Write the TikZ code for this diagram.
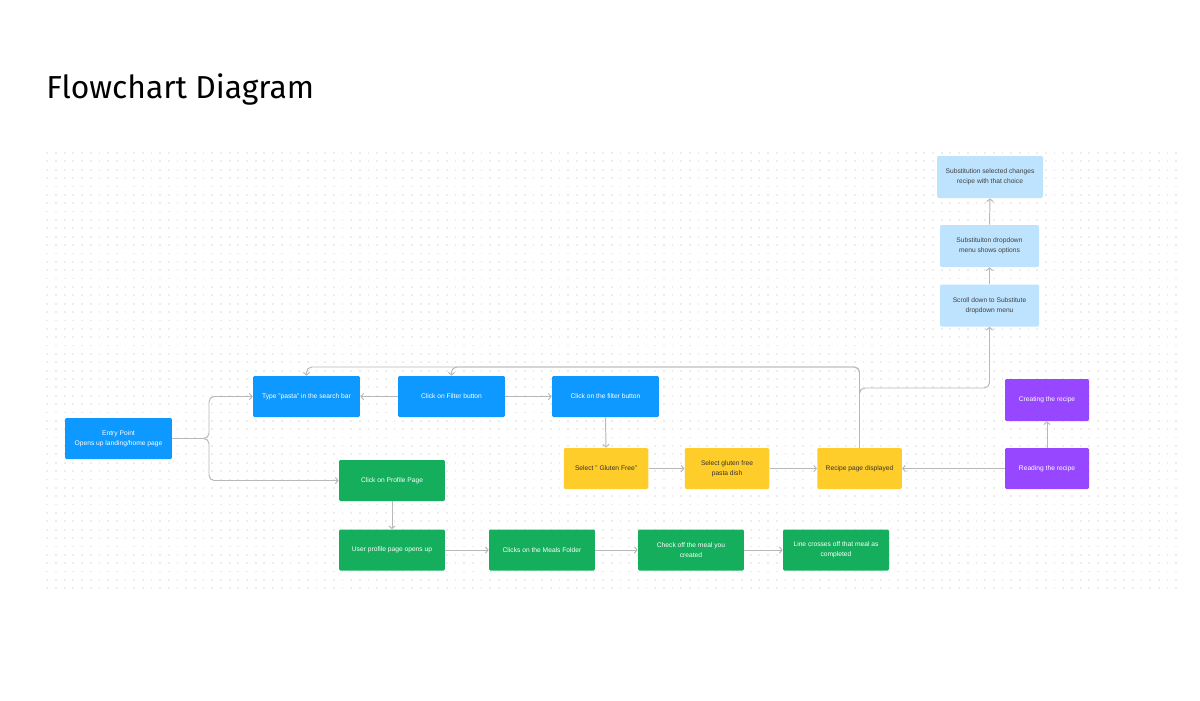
\documentclass[tikz,border=0pt]{standalone}
\usepackage{fontspec}
\setmainfont{Liberation Sans}
\newfontfamily\titlefont{Fira Sans}
\usepackage{tikz}
\usetikzlibrary{arrows.meta, positioning}
\definecolor{fjblue}{HTML}{0D99FF}
\definecolor{fjgreen}{HTML}{14AE5C}
\definecolor{fjyellow}{HTML}{FFCD29}
\definecolor{fjpurple}{HTML}{9747FF}
\definecolor{fjlight}{HTML}{BDE3FF}
\definecolor{linegray}{HTML}{B8B8B8}
\definecolor{dotgray}{HTML}{ECECEC}

\begin{document}
\begin{tikzpicture}[x=0.02cm, y=-0.02cm,
        box/.style={rectangle, rounded corners=0.8pt, minimum height=0.82cm, align=center,
            inner sep=1pt, font=\fontsize{3.8}{5.5}\selectfont},
        bluebox/.style={box, fill=fjblue, text=white, minimum width=2.14cm},
        greenbox/.style={box, fill=fjgreen, text=white, minimum width=2.12cm},
        yellowbox/.style={box, fill=fjyellow, text=black!80, minimum width=1.69cm},
        purplebox/.style={box, fill=fjpurple, text=white, minimum width=1.68cm},
        lightbox/.style={box, fill=fjlight, text=black!75, minimum width=1.98cm, minimum height=0.84cm},
        link/.style={draw=linegray, line width=0.55pt, rounded corners=3pt,
            -{Straight Barb[length=1.5pt,width=3.6pt]}},
        dotrow/.style={draw=dotgray, line width=0.035cm, dash pattern=on 0.035cm off 0.1387cm}]
    \useasboundingbox (0,0) rectangle (1200,700);
    \fill[white] (0,0) rectangle (1200,700);

    % dotted canvas
    \foreach \r in {0,...,52}
        \draw[dotrow] (46.4,{153+\r*8.37}) -- (1180,{153+\r*8.37});

    \node[anchor=base west, inner sep=0pt, font=\titlefont\fontsize{18.1}{20}\selectfont] (title) at (46,98) {Flowchart Diagram};

    % blue row
    \node[bluebox] (entry) at (118.5,438.5) {Entry Point\\Opens up landing/home page};
    \node[bluebox] (type) at (306.5,396.5) {Type "pasta" in the search bar};
    \node[bluebox] (filter) at (451.5,396.5) {Click on Filter button};
    \node[bluebox] (filter2) at (605.5,396.5) {Click on the filter button};

    % yellow row
    \node[yellowbox] (gluten) at (606,468.5) {Select " Gluten Free"};
    \node[yellowbox] (dish) at (727,468.5) {Select gluten free\\pasta dish};
    \node[yellowbox] (recipe) at (859.5,468.5) {Recipe page displayed};

    % purple
    \node[purplebox] (reading) at (1047,468.5) {Reading the recipe};
    \node[purplebox, minimum height=0.84cm] (creating) at (1047,400) {Creating the recipe};

    % substitution column
    \node[lightbox] (scroll) at (989.5,305.5) {Scroll down to Substitute\\dropdown menu};
    \node[lightbox] (options) at (989.5,246) {Substituiton dropdown\\menu shows options};
    \node[lightbox, minimum width=2.12cm] (subst) at (990,177) {Substitution selected changes\\recipe with that choice};

    % green rows
    \node[greenbox] (profile) at (392,480.5) {Click on Profile Page};
    \node[greenbox] (opens) at (392,550) {User profile page opens up};
    \node[greenbox] (meals) at (542,550) {Clicks on the Meals Folder};
    \node[greenbox] (check) at (691,550) {Check off the meal you\\created};
    \node[greenbox] (crosses) at (836,550) {Line crosses off that meal as\\completed};

    \coordinate (fork) at (209,438.5);
    \coordinate (backy) at (0,367);
    \coordinate (upy) at (0,388);

    \draw[link] (entry.east) -- (fork) |- (type.west);
    \draw[link] (entry.east) -- (fork) |- (profile.west);
    \draw[link] (filter.west) -- (type.east);
    \draw[link] (filter.east) -- (filter2.west);
    \draw[link] (filter2.south) -- (gluten.north);
    \draw[link] (gluten.east) -- (dish.west);
    \draw[link] (dish.east) -- (recipe.west);
    \draw[link] (reading.west) -- (recipe.east);
    \draw[link] (reading.north) -- (creating.south);
    \draw[link] (recipe.north) -- (recipe.north |- backy) -| (type.north);
    \draw[link] (recipe.north) -- (recipe.north |- backy) -| (filter.north);
    \draw[link] (recipe.north) -- (recipe.north |- upy) -| (scroll.south);
    \draw[link] (scroll.north) -- (options.south);
    \draw[link] (options.north) -- (subst.south);
    \draw[link] (profile.south) -- (opens.north);
    \draw[link] (opens.east) -- (meals.west);
    \draw[link] (meals.east) -- (check.west);
    \draw[link] (check.east) -- (crosses.west);
    %\draw[link] (crosses.north) -- (recipe.south);
\end{tikzpicture}
\end{document}
